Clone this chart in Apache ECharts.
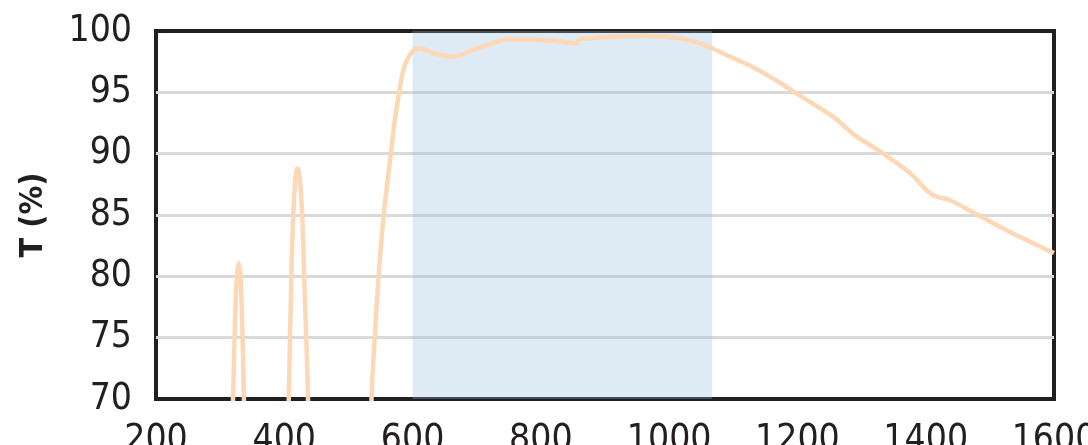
<!DOCTYPE html>
<html>
<head>
<meta charset="utf-8">
<script src="https://cdn.jsdelivr.net/npm/echarts@6/dist/echarts.min.js"></script>
<style>
  html, body { margin: 0; padding: 0; background: #fff; }
  #chart { width: 1088px; height: 445px; }
</style>
</head>
<body>
<div id="chart"></div>
<script>
// transmission curve (values under 70 are clipped by the axis)
const wavelength = [300, 320, 323, 326, 329, 332, 335, 337, 345,
  395, 407, 411, 414, 417, 419, 421, 423, 425, 428, 431, 437, 445,
  525, 536, 541, 547, 555, 566, 572, 579, 585, 591, 601, 611, 632, 663, 694, 725, 747, 780, 820, 856, 859, 862,
  900, 965, 1017, 1048, 1100, 1125, 1153, 1175, 1202, 1256, 1272, 1287, 1334, 1376, 1391, 1404, 1417,
  1438, 1485, 1536, 1600]
const transmission = [40, 70, 76, 79.8, 81.1, 79.8, 75, 70, 40,
  40, 70, 80, 85, 87.8, 88.6, 88.8, 88.5, 87.5, 85, 80, 70, 40,
  40, 70, 75, 80, 85, 90, 92.6, 95, 96.7, 97.6, 98.4, 98.6, 98.2, 97.9, 98.45, 99.0, 99.3, 99.3, 99.2, 99.0, 99.3, 99.35,
  99.5, 99.6, 99.4, 99.0, 97.8, 97.2, 96.4, 95.7, 94.8, 93.0, 92.3, 91.6, 90.0, 88.4, 87.6, 86.9, 86.5,
  86.2, 84.9, 83.5, 81.9]
// highlighted band (nm)
const band = [600, 1067]
const xTicks = [200, 400, 600, 800, 1000, 1200, 1400, 1600]
const yTicks = [70, 75, 80, 85, 90, 95, 100]

const font = "'DejaVu Sans', sans-serif"
const ink = '#231f20'

const chart = echarts.init(document.getElementById('chart'), null, { renderer: 'canvas' })

chart.setOption({
  animation: false,
  grid: {
    left: 156,
    right: 34,
    top: 31,
    bottom: 46,
    outerBoundsMode: 'none',
    show: true,
    borderColor: ink,
    borderWidth: 4,
    backgroundColor: 'transparent'
  },
  xAxis: {
    type: 'value',
    min: xTicks[0],
    max: xTicks[xTicks.length - 1],
    interval: 200,
    axisLine: { show: false },
    axisTick: { show: false },
    splitLine: { show: false },
    axisLabel: {
      color: ink, fontFamily: font, fontStyle: 'condensed', fontSize: 37, margin: 23,
      formatter: v => String(v)
    }
  },
  yAxis: {
    type: 'value',
    min: yTicks[0],
    max: yTicks[yTicks.length - 1],
    interval: 5,
    name: 'T (%)',
    nameLocation: 'middle',
    nameRotate: 90,
    nameGap: 106,
    nameTextStyle: { color: ink, fontFamily: font, fontStyle: 'condensed', fontSize: 32, fontWeight: 'bold' },
    axisLine: { show: false },
    axisTick: { show: false },
    splitLine: { show: true, showMinLine: false, showMaxLine: false, lineStyle: { color: '#d9d9d9', width: 3 } },
    axisLabel: { color: ink, fontFamily: font, fontStyle: 'condensed', fontSize: 37, margin: 24 }
  },
  series: [
    {
      type: 'line',
      data: wavelength.map((w, i) => [w, transmission[i]]),
      showSymbol: false,
      smooth: 0.3,
      clip: true,
      lineStyle: { color: '#fcd8b6', width: 4.5 },
      markArea: {
        silent: true,
        itemStyle: { color: 'rgba(145, 188, 222, 0.3)' },
        data: [[{ xAxis: band[0] }, { xAxis: band[1] }]]
      },
      z: 3
    }
  ]
})
</script>
</body>
</html>
